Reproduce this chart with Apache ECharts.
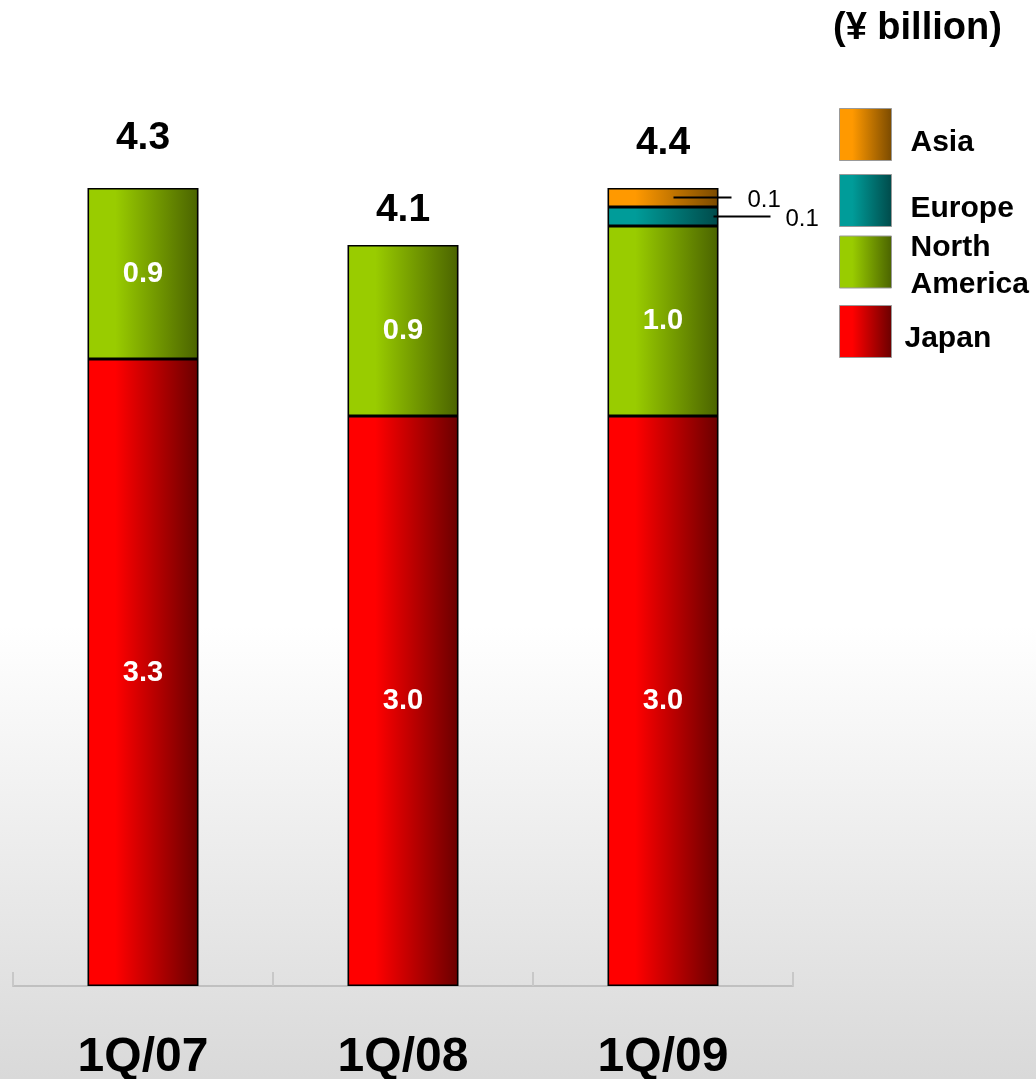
<!DOCTYPE html>
<html>
<head>
<meta charset="utf-8">
<script src="https://cdn.jsdelivr.net/npm/echarts@6/dist/echarts.min.js"></script>
<style>
  html, body { margin: 0; padding: 0; }
  #main { width: 1036px; height: 1079px; }
</style>
</head>
<body>
<div id="main"></div>
<script>
// 数据
var quarters = ['1Q/07', '1Q/08', '1Q/09'];
var japan = [3.3, 3.0, 3.0];
var northAmerica = [0.9, 0.9, 1.0];
var europe = [null, null, 0.1];
var asia = [null, null, 0.1];
var totalLabels = ['4.3', '4.1', '4.4'];
var legendNames = ['Asia', 'Europe', 'North America', 'Japan'];

// 样式
var totalLift = [30, 15, 25];
var legendTops = [108, 174, 223, 305];
var font = 'Liberation Sans';

function grad(c1, c2) {
    return new echarts.graphic.LinearGradient(0, 0, 1, 0, [
        { offset: 0, color: c1 },
        { offset: 0.25, color: c1 },
        { offset: 1, color: c2 }
    ], false);
}

function insideLabel() {
    return {
        show: true,
        position: 'inside',
        color: '#fff',
        fontSize: 29,
        fontWeight: 'bold',
        fontFamily: font,
        formatter: function (p) { return p.value.toFixed(1); }
    };
}

// 外部小标签 + 引线
function sideLabel(dx, lineW, gap) {
    return {
        show: true,
        position: [dx, '50%'],
        align: 'left',
        verticalAlign: 'middle',
        formatter: function (p) { return '{l|}{t|' + p.value.toFixed(1) + '}'; },
        rich: {
            l: { width: lineW, height: 2, backgroundColor: '#000' },
            t: { fontSize: 24, color: '#000', fontFamily: font, padding: [6, 0, 0, gap] }
        }
    };
}

var barBase = {
    type: 'bar',
    stack: 'total',
    barWidth: 111,
    itemStyle: { borderColor: '#000', borderWidth: 1.6 }
};

var totals = quarters.map(function (q, i) {
    return (japan[i] || 0) + (northAmerica[i] || 0) + (europe[i] || 0) + (asia[i] || 0);
});

// 图例文字
var legendText = { fontSize: 30, fontWeight: 'bold', color: '#000', fontFamily: font };
function legendRich(extra) {
    return Object.assign({}, legendText, extra);
}

// 每个图例单独放置
var legends = legendNames.map(function (n, i) {
    return {
        orient: 'vertical',
        left: 839,
        top: legendTops[i],
        padding: 0,
        icon: 'rect',
        itemWidth: 52,
        itemHeight: 52,
        itemGap: 0,
        data: [n],
        itemStyle: { borderColor: '#999', borderWidth: 1 },
        formatter: function (n) {
            if (n === 'North America') return '{b|North}\n{c|America}';
            if (n === 'Japan') return '{j|Japan}';
            return '{a|' + n + '}';
        },
        textStyle: Object.assign({}, legendText, {
            rich: {
                a: legendRich({ padding: [16, 0, 0, 14] }),
                j: legendRich({ padding: [14, 0, 0, 8] }),
                b: legendRich({ lineHeight: 38, padding: [10, 0, 0, 14] }),
                c: legendRich({ lineHeight: 38, padding: [7, 0, 0, 14] })
            }
        })
    };
});

var chart = echarts.init(document.getElementById('main'));

var option = {
    backgroundColor: new echarts.graphic.LinearGradient(0, 0, 0, 1, [
        { offset: 0, color: '#ffffff' },
        { offset: 0.58, color: '#ffffff' },
        { offset: 1, color: '#d9d9d9' }
    ]),
    title: {
        text: '(¥ billion)',
        left: 828,
        top: 5,
        textStyle: { fontSize: 38, fontWeight: 'bold', color: '#000', fontFamily: font }
    },
    legend: legends,
    grid: { left: 13, right: 243, top: 36, bottom: 93, outerBoundsMode: 'none' },
    xAxis: {
        type: 'category',
        data: quarters,
        axisLine: { lineStyle: { color: '#c0c0c0', width: 2 } },
        axisTick: { show: true, inside: true, length: 14, lineStyle: { color: '#c8c8c8', width: 2 } },
        axisLabel: {
            margin: 48,
            color: '#000',
            fontSize: 48,
            fontWeight: 'bold',
            fontFamily: font
        }
    },
    yAxis: { type: 'value', min: 0, max: 5, show: false },
    series: [
        Object.assign({}, barBase, {
            name: 'Japan', data: japan,
            itemStyle: Object.assign({}, barBase.itemStyle, { color: grad('#ff0000', '#6a0000') }),
            label: insideLabel()
        }),
        Object.assign({}, barBase, {
            name: 'North America', data: northAmerica,
            itemStyle: Object.assign({}, barBase.itemStyle, { color: grad('#99cc00', '#4a6300') }),
            label: insideLabel()
        }),
        Object.assign({}, barBase, {
            name: 'Europe', data: europe,
            itemStyle: Object.assign({}, barBase.itemStyle, { color: grad('#009c99', '#004a4a') }),
            label: sideLabel(106, 57, 15)
        }),
        Object.assign({}, barBase, {
            name: 'Asia', data: asia,
            itemStyle: Object.assign({}, barBase.itemStyle, { color: grad('#ff9900', '#7a4a00') }),
            label: sideLabel(66, 58, 16)
        }),
        {
            name: 'total',
            type: 'scatter',
            symbolSize: 0,
            z: 10,
            itemStyle: { opacity: 1 },
            data: totals.map(function (v, i) {
                return {
                    value: v,
                    label: { distance: totalLift[i] }
                };
            }),
            label: {
                show: true,
                position: 'top',
                color: '#000',
                fontSize: 39,
                fontWeight: 'bold',
                fontFamily: font,
                formatter: function (p) { return totalLabels[p.dataIndex]; }
            }
        }
    ]
};

chart.setOption(option);
</script>
</body>
</html>
